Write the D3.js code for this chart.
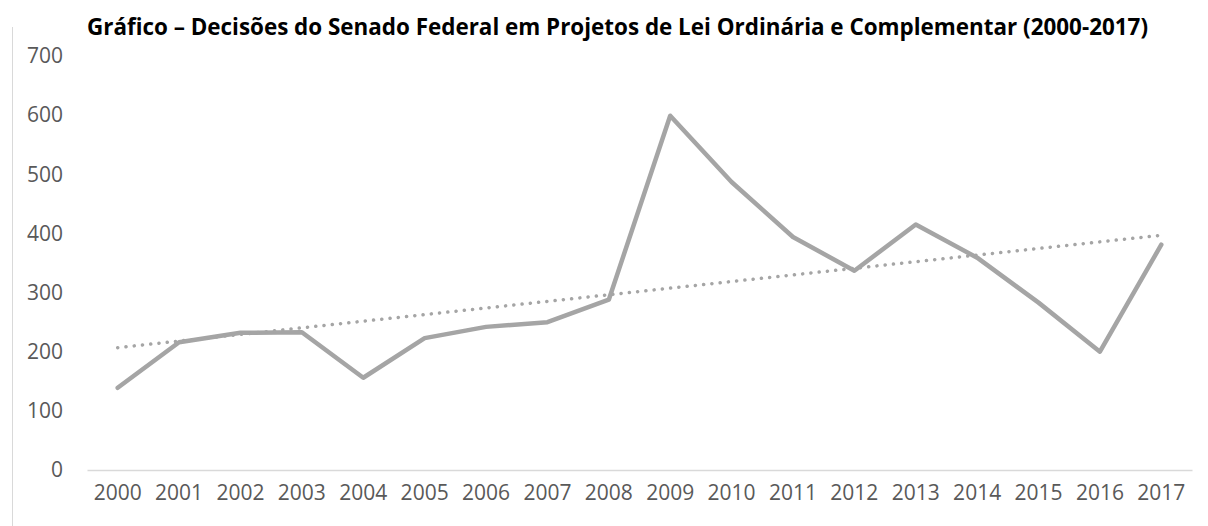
<!DOCTYPE html>
<html lang="pt">
<head>
<meta charset="utf-8">
<title>Decisões do Senado Federal</title>
<script src="https://d3js.org/d3.v7.min.js"></script>
<style>
  body { margin: 0; background: #fff; }
  svg text { font-family: "Open Sans", sans-serif; }
</style>
</head>
<body>
<svg id="chart" width="1208" height="526"></svg>
<script>
// data
const years = ["2000","2001","2002","2003","2004","2005","2006","2007","2008",
               "2009","2010","2011","2012","2013","2014","2015","2016","2017"];
const decisions = [139, 216, 232, 233, 156, 223, 242, 250, 288,
                   599, 487, 394, 337, 415, 359, 283, 200, 381];
const yTicks = [0, 100, 200, 300, 400, 500, 600, 700];
const title = "Gráfico – Decisões do Senado Federal em Projetos de Lei Ordinária e Complementar (2000-2017)";

const svg = d3.select("#chart");
const plotLeft = 87, plotRight = 1192, plotTop = 56, plotBottom = 470;

const x = d3.scaleBand().domain(years).range([plotLeft, plotRight]);
const y = d3.scaleLinear().domain([0, 700]).range([plotBottom, plotTop]);
const cx = d => x(d) + x.bandwidth() / 2;

// chart frame edge on the left
svg.append("line")
    .attr("x1", 12.5).attr("x2", 12.5).attr("y1", 27).attr("y2", 526)
    .attr("stroke", "#d9d9d9").attr("stroke-width", 1);

// title
svg.append("text")
    .attr("x", 617.5).attr("y", 35)
    .attr("text-anchor", "middle")
    .attr("font-weight", "bold").attr("font-size", 23.5)
    .attr("textLength", 1061).attr("lengthAdjust", "spacingAndGlyphs")
    .attr("fill", "#000")
    .text(title);

// y axis labels
const yAxis = d3.axisLeft(y).tickValues(yTicks).tickSize(0).tickPadding(0);
svg.append("g")
    .attr("transform", "translate(63,0)")
    .call(yAxis)
    .call(g => g.select(".domain").remove())
    .selectAll("text")
    .attr("font-family", "Open Sans").attr("font-size", 21).attr("fill", "#595959");

// x axis baseline + labels
const xAxis = d3.axisBottom(x).tickSize(0).tickPadding(15);
svg.append("g")
    .attr("transform", "translate(0," + plotBottom + ")")
    .call(xAxis)
    .call(g => g.select(".domain").attr("stroke", "#d9d9d9").attr("stroke-width", 1.5))
    .selectAll("text")
    .attr("font-family", "Open Sans").attr("font-size", 21).attr("fill", "#595959");

// linear trend (least squares on the series)
const idx = decisions.map((d, i) => i);
const mx = d3.mean(idx), my = d3.mean(decisions);
const slope = d3.sum(idx, i => (i - mx) * (decisions[i] - my)) / d3.sum(idx, i => (i - mx) * (i - mx));
const icpt = my - slope * mx;

const line = d3.line().x(d => cx(d.year)).y(d => y(d.value));
const series = years.map((yr, i) => ({year: yr, value: decisions[i]}));
const trend = [0, years.length - 1].map(i => ({year: years[i], value: icpt + slope * i}));

svg.append("path")
    .datum(series)
    .attr("d", line)
    .attr("fill", "none")
    .attr("stroke", "#a5a5a5")
    .attr("stroke-width", 4.5)
    .attr("stroke-linejoin", "round")
    .attr("stroke-linecap", "round");

svg.append("path")
    .datum(trend)
    .attr("d", line)
    .attr("fill", "none")
    .attr("stroke", "#a5a5a5")
    .attr("stroke-width", 3.5)
    .attr("stroke-linecap", "round")
    .attr("stroke-dasharray", "0.1 8.2");
</script>
</body>
</html>
